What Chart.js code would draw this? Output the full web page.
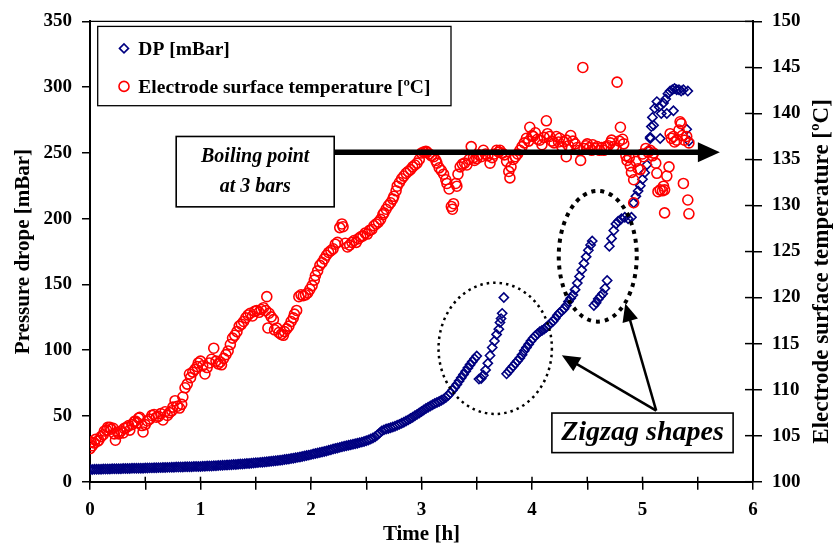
<!DOCTYPE html>
<html><head><meta charset="utf-8">
<script src="https://cdn.jsdelivr.net/npm/chart.js@4.4.1/dist/chart.umd.min.js"></script>
<style>html,body{margin:0;padding:0;background:#fff;}#wrap{width:835px;height:545px;}</style>
</head><body><div id="wrap"><canvas id="c" width="835" height="545"></canvas></div>
<script>
// ---------- data ----------
const seriesNames = ['DP [mBar]', 'Electrode surface temperature [ºC]'];
const axisTitles = { x: 'Time [h]', left: 'Pressure drope [mBar]', right: 'Electrode surface temperature [ºC]' };
const timeTickLabels = ['0', '1', '2', '3', '4', '5', '6'];
const boilingText = ['Boiling point', 'at 3 bars'];
const zigzagText = 'Zigzag shapes';

const dpHours = [
  0.00,0.02,0.04,0.06,0.08,0.10,0.12,0.14,0.16,0.18,
  0.20,0.22,0.24,0.26,0.28,0.30,0.32,0.34,0.36,0.38,
  0.40,0.42,0.44,0.46,0.48,0.50,0.52,0.54,0.56,0.58,
  0.60,0.62,0.64,0.66,0.68,0.70,0.72,0.74,0.76,0.78,
  0.80,0.82,0.84,0.86,0.88,0.90,0.92,0.94,0.96,0.98,
  1.00,1.02,1.04,1.06,1.08,1.10,1.12,1.14,1.16,1.18,
  1.20,1.22,1.24,1.26,1.28,1.30,1.32,1.34,1.36,1.38,
  1.40,1.42,1.44,1.46,1.48,1.50,1.52,1.54,1.56,1.58,
  1.60,1.62,1.64,1.66,1.68,1.70,1.72,1.74,1.76,1.78,
  1.80,1.82,1.84,1.86,1.88,1.90,1.92,1.94,1.96,1.98,
  2.00,2.02,2.04,2.06,2.08,2.10,2.12,2.14,2.16,2.18,
  2.20,2.22,2.24,2.26,2.28,2.30,2.32,2.34,2.36,2.38,
  2.40,2.42,2.44,2.46,2.48,2.50,2.52,2.54,2.56,2.58,
  2.60,2.62,2.64,2.66,2.68,2.70,2.72,2.74,2.76,2.78,
  2.80,2.82,2.84,2.86,2.88,2.90,2.92,2.94,2.96,2.98,
  3.00,3.02,3.04,3.06,3.08,3.10,3.12,3.14,3.16,3.18,
  3.20,3.22,3.24,3.26,3.28,3.30,3.32,3.34,3.36,3.38,
  3.40,3.42,3.44,3.46,3.48,3.50,
  3.52,3.54,3.56,3.58,3.60,3.62,3.64,3.66,3.68,3.70,3.71,3.72,3.73,3.745,
  3.77,3.79,3.81,3.83,3.85,3.87,3.89,3.91,3.93,3.95,
  3.97,3.99,4.01,4.03,4.05,4.07,4.09,4.11,4.13,4.15,
  4.17,4.19,4.21,4.23,4.25,4.27,4.29,4.31,4.33,4.35,
  4.37,4.39,4.41,4.43,4.45,4.47,4.49,4.51,4.53,4.545,
  4.56,4.58,4.60,4.62,4.64,4.66,4.68,
  4.70,4.72,4.74,4.76,4.78,4.81,4.84,4.87,4.90,
  4.92,4.94,4.96,4.98,5.00,5.02,5.04,5.06,5.07,5.08,
  5.09,5.11,5.13,5.15,5.17,5.19,5.21,5.23,5.25,5.27,
  5.29,5.31,5.33,5.35,5.37,5.41,
  5.07,5.16,5.22,5.28,5.40,5.42,5.10
];
const dpMbar = [
  9.3,9.3,9.4,9.4,9.4,9.5,9.6,9.6,9.7,9.7,
  9.8,9.8,9.8,9.9,9.9,10.0,10.0,10.1,10.1,10.2,
  10.2,10.2,10.2,10.3,10.3,10.4,10.4,10.5,10.5,10.6,
  10.6,10.7,10.7,10.8,10.8,10.9,10.9,11.0,11.0,11.1,
  11.1,11.2,11.2,11.3,11.3,11.4,11.4,11.5,11.5,11.6,
  11.6,11.7,11.8,11.9,11.9,12.0,12.1,12.2,12.3,12.4,
  12.5,12.6,12.7,12.8,12.9,13.0,13.1,13.3,13.4,13.5,
  13.6,13.8,13.9,14.1,14.2,14.4,14.5,14.7,14.8,15.0,
  15.1,15.3,15.5,15.7,15.9,16.1,16.3,16.5,16.8,17.0,
  17.3,17.6,17.9,18.2,18.5,18.8,19.2,19.5,19.9,20.2,
  20.6,21.0,21.4,21.8,22.2,22.6,23.0,23.4,23.9,24.3,
  24.8,25.2,25.7,26.1,26.5,26.9,27.3,27.7,28.1,28.5,
  28.9,29.3,29.7,30.1,30.6,31.1,31.7,32.4,33.2,34.2,
  35.5,37.0,38.5,39.4,40.0,40.5,41.0,41.6,42.2,42.9,
  43.6,44.4,45.2,46.1,47.0,48.0,49.0,50.1,51.2,52.3,
  53.4,54.5,55.6,56.6,57.6,58.5,59.4,60.2,61.0,61.9,
  62.8,64.0,65.5,67.4,69.5,71.7,74.0,76.5,79.0,81.5,
  84.0,86.5,89.0,91.3,93.5,95.5,
  78,78.5,81,85,90,96,102,107,112,116,121,124,128,140,
  82,84,86,88,90,92,94,96.5,99.5,102,
  104.5,107,109,111,112.5,114,115,116,117.5,119,
  120.5,122,124,126.5,128.5,130,131.5,134,137,139.5,
  142,146,151,156,161,166,171,176,180,183,
  134,136,139,141,143,147,153,
  179,185,191,196,198,200,201,200,201,
  212,217,221,225,230,235,241,252,261,270,
  277,284,289,285,280,288,291,295,297,298,
  299,298,298,297,298,297,
  262,261,280,282,268,259,271
];

const tempHours = [
  0.00,0.01,0.02,0.04,0.05,0.07,0.08,0.10,0.12,0.13,
  0.15,0.16,0.18,0.19,0.21,0.22,0.23,0.25,0.26,0.28,
  0.30,0.31,0.33,0.35,0.36,0.38,0.40,0.41,0.43,0.44,
  0.45,0.47,0.48,0.50,0.52,0.54,0.56,0.58,0.60,0.62,
  0.64,0.66,0.68,0.70,0.72,0.74,0.75,0.77,0.79,0.81,
  0.83,0.84,0.86,0.88,0.90,0.91,0.93,0.95,0.97,0.98,
  1.00,1.02,1.04,1.06,1.08,1.10,1.12,1.14,1.16,1.18,
  1.19,1.21,1.23,1.25,1.27,1.29,1.31,1.33,1.35,1.37,
  1.39,1.41,1.43,1.45,1.47,1.49,1.51,1.53,1.55,1.57,
  1.59,1.60,1.61,1.62,1.64,1.66,1.67,1.69,1.71,1.73,
  1.75,1.76,1.78,1.80,1.82,1.84,1.85,1.87,1.89,1.91,
  1.93,1.95,1.97,1.99,2.01,2.03,2.04,2.06,2.08,2.10,
  2.12,2.14,2.16,2.18,2.20,2.22,2.24,2.26,2.28,2.29,
  2.31,2.33,2.35,2.37,2.39,2.41,2.43,2.45,2.47,2.49,
  2.51,2.53,2.55,2.57,2.59,2.61,2.63,2.65,2.66,2.68,
  2.70,2.72,2.74,2.75,2.77,2.78,2.80,2.82,2.84,2.86,
  2.88,2.90,2.92,2.94,2.96,2.98,3.00,3.02,3.04,3.05,
  3.07,3.09,3.11,3.13,3.14,3.16,3.18,3.20,3.22,3.23,
  3.25,3.27,3.28,3.29,3.31,3.32,3.33,3.35,3.37,3.39,
  3.41,3.43,3.45,3.47,3.48,3.50,3.52,3.54,3.56,3.58,
  3.60,3.62,3.64,3.66,3.68,3.70,3.71,3.73,3.75,3.77,
  3.79,3.80,3.81,3.83,3.85,3.87,3.89,3.91,3.93,3.95,
  3.97,3.98,4.00,4.01,4.03,4.05,4.07,4.09,4.11,4.13,
  4.14,4.16,4.18,4.20,4.22,4.24,4.25,4.27,4.29,4.31,
  4.31,4.33,4.35,4.37,4.39,4.41,4.43,4.44,4.46,4.47,
  4.49,4.50,4.52,4.54,4.55,4.57,4.59,4.61,4.63,4.65,
  4.67,4.69,4.71,4.72,4.74,4.76,4.77,4.79,4.80,4.82,
  4.83,4.85,4.86,4.88,4.89,4.90,4.92,4.92,4.94,4.96,
  4.98,5.00,5.01,5.03,5.05,5.07,5.09,5.10,5.12,5.13,
  5.14,5.16,5.18,5.19,5.20,5.20,5.22,5.24,5.25,5.26,
  5.28,5.29,5.31,5.33,5.34,5.35,5.36,5.37,5.38,5.40,
  5.41,5.42,5.42
];
const tempCelsius = [
  103.6,104.3,103.9,104.2,104.6,104.4,104.5,104.9,105.1,105.5,
  105.6,105.9,105.9,105.7,105.8,105.2,104.5,105.4,105.2,105.5,
  105.3,105.8,105.9,106.1,105.6,106.2,106.5,106.6,106.4,106.9,
  107.0,106.1,105.4,106.2,106.6,106.8,107.2,107.3,107.0,107.1,
  107.4,106.7,107.6,107.2,107.5,107.7,108.1,108.8,108.2,108.0,
  108.4,109.2,110.2,110.6,111.7,111.3,111.9,112.2,112.5,112.9,
  113.1,112.6,111.7,112.4,112.9,113.3,114.5,113.1,112.8,113.0,
  112.7,113.4,113.8,114.2,114.9,115.6,115.9,116.3,116.9,117.1,
  117.4,117.8,118.1,118.3,118.0,118.5,118.6,118.4,118.7,118.9,
  118.6,120.1,116.7,118.3,117.9,117.6,116.5,116.7,116.2,116.0,
  115.9,116.3,116.6,116.9,117.4,117.8,118.2,118.6,120.1,120.3,
  120.2,120.3,120.5,120.9,121.3,121.9,122.4,122.9,123.5,123.8,
  124.2,124.6,124.9,125.1,125.3,125.8,126.0,127.6,128.0,127.7,
  125.9,125.5,125.7,126.0,126.2,126.0,126.4,126.6,126.7,127.0,
  126.9,127.3,127.4,127.8,128.0,128.2,128.5,129.0,129.2,129.6,
  130.0,130.3,130.7,131.0,131.6,132.1,132.5,132.9,133.2,133.5,
  133.7,133.9,134.2,134.4,134.6,135.0,135.7,135.8,135.9,135.8,
  135.6,135.4,135.3,134.9,134.6,134.1,133.8,133.4,132.8,132.4,
  131.8,129.9,129.6,130.2,132.4,132.1,133.4,134.2,134.5,134.6,
  134.4,135.0,136.4,135.2,134.9,135.1,135.5,135.3,136.0,135.6,
  135.4,134.6,135.2,135.6,136.0,135.8,136.0,135.7,135.5,134.8,
  133.7,133.0,134.2,135.0,135.3,135.6,136.0,136.4,136.8,137.3,
  137.0,138.5,137.6,137.5,137.9,137.2,137.1,136.6,137.4,139.2,
  137.8,137.5,137.0,136.8,137.5,136.9,137.3,136.4,136.9,137.1,
  135.3,136.5,137.6,137.0,136.7,136.3,136.0,134.9,145.0,136.2,
  136.5,136.7,136.3,136.0,136.6,136.2,136.4,136.0,136.3,136.0,
  136.4,136.5,136.8,137.1,136.4,136.2,143.4,137.0,138.5,137.2,
  136.7,135.4,134.9,135.2,134.3,133.6,132.8,130.3,134.8,134.0,
  133.9,135.6,135.3,136.2,135.8,136.0,135.4,135.7,134.6,133.5,
  131.5,131.7,131.6,132.1,131.7,129.2,133.2,134.2,137.8,137.3,
  137.5,136.9,137.1,138.2,139.1,138.9,137.6,132.4,137.1,137.5,
  130.6,129.1,136.8
];

// boiling-point reference level (right axis, °C)
const boilingLevel = 135.8;

// ---------- chart ----------
const FONT = "'Liberation Serif','Times New Roman',serif";
Chart.defaults.font.family = FONT;
Chart.defaults.color = '#000';

const zip = (xs, ys) => xs.map((x, i) => ({ x: x, y: ys[i] }));

function arrow(ctx, x1, y1, x2, y2, lw, hl, hw) {
  const dx = x2 - x1, dy = y2 - y1, L = Math.hypot(dx, dy), ux = dx / L, uy = dy / L;
  const bx = x2 - ux * hl, by = y2 - uy * hl;
  ctx.lineWidth = lw; ctx.lineCap = 'butt';
  ctx.beginPath(); ctx.moveTo(x1, y1); ctx.lineTo(bx + ux, by + uy); ctx.stroke();
  ctx.beginPath(); ctx.moveTo(x2, y2);
  ctx.lineTo(bx - uy * hw, by + ux * hw); ctx.lineTo(bx + uy * hw, by - ux * hw);
  ctx.closePath(); ctx.fill();
}

const overlay = {
  id: 'overlay',
  afterDatasetsDraw(chart) {
    const ctx = chart.ctx, X = chart.scales.x, L = chart.scales.y, R = chart.scales.y1;
    ctx.save();
    ctx.strokeStyle = '#000'; ctx.fillStyle = '#000';
    // Boiling point box + arrow
    const bx0 = X.getPixelForValue(0.78), bx1 = X.getPixelForValue(2.21);
    const by0 = L.getPixelForValue(262.5), by1 = L.getPixelForValue(209);
    const ay = R.getPixelForValue(boilingLevel);
    arrow(ctx, bx1, ay, X.getPixelForValue(5.70), ay, 5.5, 22, 10);
    ctx.fillStyle = '#fff'; ctx.fillRect(bx0, by0, bx1 - bx0, by1 - by0);
    ctx.lineWidth = 1.6; ctx.strokeRect(bx0, by0, bx1 - bx0, by1 - by0);
    ctx.fillStyle = '#000'; ctx.textAlign = 'center'; ctx.textBaseline = 'alphabetic';
    ctx.font = 'italic bold 20px ' + FONT;
    ctx.fillText(boilingText[0], (bx0 + bx1) / 2, by0 + 25.5);
    ctx.fillText(boilingText[1], (bx0 + bx1) / 2, by0 + 55.5);
    // dotted ellipses
    ctx.setLineDash([2.5, 4]); ctx.lineWidth = 2.5;
    ctx.beginPath();
    ctx.ellipse(X.getPixelForValue(3.667), L.getPixelForValue(101.4),
      X.getPixelForValue(0.513) - X.getPixelForValue(0), L.getPixelForValue(0) - L.getPixelForValue(49.9), 0, 0, Math.PI * 2);
    ctx.stroke();
    ctx.setLineDash([4, 5]); ctx.lineWidth = 4;
    ctx.beginPath();
    ctx.ellipse(X.getPixelForValue(4.595), L.getPixelForValue(171.4),
      X.getPixelForValue(0.353) - X.getPixelForValue(0), L.getPixelForValue(0) - L.getPixelForValue(49.7), 0, 0, Math.PI * 2);
    ctx.stroke();
    ctx.setLineDash([]);
    // Zigzag arrows + box
    const sx = X.getPixelForValue(5.124), sy = L.getPixelForValue(54.0);
    arrow(ctx, sx, sy, X.getPixelForValue(4.27), L.getPixelForValue(96.2), 2.5, 18, 8);
    arrow(ctx, sx, sy, X.getPixelForValue(4.844), L.getPixelForValue(135.5), 2.5, 18, 8);
    const zx0 = X.getPixelForValue(4.18), zx1 = X.getPixelForValue(5.82);
    const zy0 = L.getPixelForValue(52.2), zy1 = L.getPixelForValue(22.1);
    ctx.fillStyle = '#fff'; ctx.fillRect(zx0, zy0, zx1 - zx0, zy1 - zy0);
    ctx.lineWidth = 1.6; ctx.strokeRect(zx0, zy0, zx1 - zx0, zy1 - zy0);
    ctx.fillStyle = '#000'; ctx.font = 'italic bold 28px ' + FONT;
    ctx.fillText(zigzagText, (zx0 + zx1) / 2, zy0 + 27);
    ctx.restore();
  },
  afterDraw(chart) {
    const ctx = chart.ctx, a = chart.chartArea, X = chart.scales.x, R = chart.scales.y1;
    ctx.save();
    ctx.strokeStyle = '#000'; ctx.fillStyle = '#000';
    // top frame line
    ctx.lineWidth = 1.2;
    ctx.beginPath(); ctx.moveTo(a.left, a.top); ctx.lineTo(a.right, a.top); ctx.stroke();
    // inner halves of crossing ticks
    ctx.lineWidth = 1.5;
    X.ticks.forEach(t => { const p = X.getPixelForValue(t.value); ctx.beginPath(); ctx.moveTo(p, a.bottom); ctx.lineTo(p, a.bottom - 5); ctx.stroke(); });
    R.ticks.forEach(t => { const p = R.getPixelForValue(t.value); ctx.beginPath(); ctx.moveTo(a.right, p); ctx.lineTo(a.right - 8, p); ctx.stroke(); });
    // right axis title (reads bottom-to-top)
    ctx.save();
    ctx.translate(chart.width - 13, a.top + 250);
    ctx.rotate(-Math.PI / 2);
    ctx.textAlign = 'center'; ctx.textBaseline = 'middle';
    ctx.font = 'bold 23px ' + FONT;
    ctx.fillText(axisTitles.right, 0, 0);
    ctx.restore();
    // legend box
    const lx = a.left + 7.7, ly = a.top + 5, lw = 353.3, lh = 79.3;
    ctx.fillStyle = '#fff'; ctx.fillRect(lx, ly, lw, lh);
    ctx.lineWidth = 1.3; ctx.strokeRect(lx, ly, lw, lh);
    chart.data.datasets.forEach((ds, i) => {
      const cy = ly + 22 + i * 38;
      ctx.strokeStyle = ds.borderColor; ctx.fillStyle = 'rgba(0,0,0,0)'; ctx.lineWidth = ds.borderWidth;
      Chart.helpers.drawPoint(ctx, { pointStyle: ds.pointStyle, radius: i === 0 ? 4.5 : 5, borderWidth: ds.borderWidth, rotation: 0 }, lx + 26.3, cy);
      ctx.fillStyle = '#000'; ctx.textAlign = 'left'; ctx.textBaseline = 'alphabetic';
      ctx.font = 'bold 19.5px ' + FONT;
      ctx.fillText(ds.label, lx + 40.6, cy + 6.5);
    });
    ctx.restore();
  }
};

const tickFont = { size: 19, weight: 'bold' };
new Chart(document.getElementById('c'), {
  type: 'scatter',
  data: {
    datasets: [
      { label: seriesNames[0], data: zip(dpHours, dpMbar), yAxisID: 'y', order: 2,
        pointStyle: 'rectRot', radius: 4.6, borderColor: '#000080', backgroundColor: 'rgba(0,0,0,0)', borderWidth: 1.6 },
      { label: seriesNames[1], data: zip(tempHours, tempCelsius), yAxisID: 'y1', order: 1,
        pointStyle: 'circle', radius: 5, borderColor: '#ff0000', backgroundColor: 'rgba(0,0,0,0)', borderWidth: 1.6 }
    ]
  },
  options: {
    responsive: false, animation: false, devicePixelRatio: 1,
    layout: { padding: { top: 16.7, left: 0, right: 0, bottom: 0 } },
    plugins: { legend: { display: false }, tooltip: { enabled: false } },
    scales: {
      x: {
        type: 'linear', position: 'bottom', min: 0, max: 6,
        ticks: { stepSize: 0.5, font: tickFont, padding: 9, maxRotation: 0, autoSkip: false,
          callback: v => Number.isInteger(v) ? timeTickLabels[v] : '' },
        grid: { drawOnChartArea: false, tickLength: 8, color: '#000', lineWidth: 1.5 },
        border: { display: true, color: '#000', width: 2 },
        title: { display: true, text: axisTitles.x, font: { size: 21, weight: 'bold', lineHeight: 1 }, padding: { top: 0, bottom: 0 } },
        afterFit: s => { s.height = 63.3; }
      },
      y: {
        position: 'left', min: 0, max: 350,
        ticks: { stepSize: 50, font: tickFont, padding: 10 },
        grid: { drawOnChartArea: false, tickLength: 8, color: '#000', lineWidth: 1.5 },
        border: { display: true, color: '#000', width: 2 },
        title: { display: true, text: axisTitles.left, font: { size: 21, weight: 'bold' }, padding: { top: 11, bottom: 0 } },
        afterFit: s => { s.width = 90; }
      },
      y1: {
        position: 'right', min: 100, max: 150,
        ticks: { stepSize: 5, font: tickFont, padding: 10 },
        grid: { drawOnChartArea: false, tickLength: 9, color: '#000', lineWidth: 1.5 },
        border: { display: true, color: '#000', width: 2 },
        afterFit: s => { s.width = 82; }
      }
    }
  },
  plugins: [overlay]
});
</script></body></html>
